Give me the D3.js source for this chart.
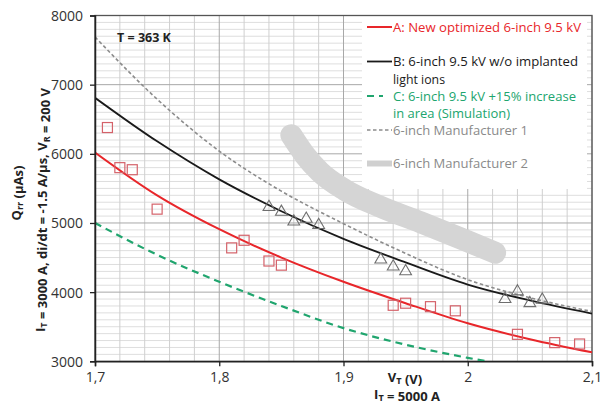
<!DOCTYPE html>
<html><head><meta charset="utf-8">
<script src="https://cdn.jsdelivr.net/npm/d3@7"></script>
<style>html,body{margin:0;padding:0;background:#fff;}svg{display:block;}</style>
</head><body>
<svg id="chart" width="602" height="405"></svg>
<script>
// ---- data ----
const vGrid = [1.70, 1.75, 1.80, 1.85, 1.90, 1.95, 2.00, 2.05, 2.10];
const qA = [6020, 5400, 4910, 4500, 4150, 3840, 3550, 3320, 3130];
const qB = [6810, 6180, 5630, 5170, 4770, 4430, 4110, 3880, 3690];
const qM1 = [7690, 6790, 6040, 5460, 4990, 4560, 4180, 3920, 3720];
const vC = [1.70, 1.75, 1.80, 1.85, 1.90, 1.95, 2.00, 2.015];
const qC = [5000, 4540, 4150, 3800, 3480, 3240, 3050, 3000];
const vBand = [1.858, 1.869, 1.881, 1.901, 1.929, 1.962, 1.994, 2.022];
const qBand = [6270, 5980, 5740, 5480, 5240, 5010, 4780, 4570];
const vSquares = [1.71, 1.72, 1.73, 1.75, 1.81, 1.82, 1.84, 1.85, 1.94, 1.95, 1.97, 1.99, 2.04, 2.07, 2.09];
const qSquares = [6380, 5800, 5770, 5200, 4640, 4750, 4450, 4390, 3810, 3840, 3790, 3730, 3390, 3270, 3250];
const vTri = [1.84, 1.85, 1.86, 1.87, 1.88, 1.93, 1.94, 1.95, 2.03, 2.04, 2.05, 2.06];
const qTri = [5230, 5160, 5020, 5060, 4970, 4470, 4370, 4300, 3900, 4010, 3840, 3890];
const xTicks = [1.7, 1.8, 1.9, 2.0, 2.1];
const xTickLabels = ["1,7", "1,8", "1,9", "2", "2,1"];
const yTicks = [3000, 4000, 5000, 6000, 7000, 8000];
const yTickLabels = ["3000", "4000", "5000", "6000", "7000", "8000"];
const legendLabels = [
  ["A: New optimized 6-inch 9.5 kV"],
  ["B: 6-inch 9.5 kV w/o implanted", "light ions"],
  ["C: 6-inch 9.5 kV +15% increase", "in area (Simulation)"],
  ["6-inch Manufacturer 1"],
  ["6-inch Manufacturer 2"]
];

// ---- layout ----
const svg = d3.select("#chart");
const L = 95, R = 592, T = 15.5, B = 361.3;
const x = d3.scaleLinear().domain([1.7, 2.1]).range([L, R]);
const y = d3.scaleLinear().domain([3000, 8000]).range([B, T]);
const FONT = "'Open Sans', 'DejaVu Sans', sans-serif";
const cRed = "#e8262a", cBlack = "#1a1a1a", cGreen = "#20a56e";

svg.append("defs").append("clipPath").attr("id", "clip")
  .append("rect").attr("x", L).attr("y", T).attr("width", R - L).attr("height", B - T);

// grid
const g = svg.append("g");
g.selectAll(".hmin").data(d3.range(3100, 8000, 100).filter(v => v % 1000 !== 0)).join("line")
  .attr("x1", L).attr("x2", R).attr("y1", d => y(d)).attr("y2", d => y(d))
  .attr("stroke", "#dedede").attr("stroke-width", 1);
g.selectAll(".vmin").data(d3.range(1.72, 2.1, 0.02).filter(v => Math.abs(v * 10 - Math.round(v * 10)) > 0.01)).join("line")
  .attr("y1", T).attr("y2", B).attr("x1", d => x(d)).attr("x2", d => x(d))
  .attr("stroke", "#cfcfcf").attr("stroke-width", 1);
g.selectAll(".hmaj").data(yTicks).join("line")
  .attr("x1", L).attr("x2", R).attr("y1", d => y(d)).attr("y2", d => y(d))
  .attr("stroke", "#a8a8a8").attr("stroke-width", 1);
g.selectAll(".vmaj").data(xTicks).join("line")
  .attr("y1", T).attr("y2", B).attr("x1", d => x(d)).attr("x2", d => x(d))
  .attr("stroke", "#a8a8a8").attr("stroke-width", 1);

// legend box background
svg.append("rect").attr("x", 362).attr("y", T + 0.5).attr("width", 225).attr("height", 173).attr("fill", "#fff");

// border
svg.append("rect").attr("x", L).attr("y", T).attr("width", R - L).attr("height", B - T)
  .attr("fill", "none").attr("stroke", "#555").attr("stroke-width", 1.3);

const plot = svg.append("g").attr("clip-path", "url(#clip)");
const line = d3.line().curve(d3.curveMonotoneX);

// band Manufacturer 2
plot.append("path").attr("d", line(vBand.map((v, i) => [x(v), y(qBand[i])])))
  .attr("fill", "none").attr("stroke", "#d5d5d5").attr("stroke-width", 22)
  .attr("stroke-linecap", "round").attr("stroke-linejoin", "round");

// lines
plot.append("path").attr("d", line(vGrid.map((v, i) => [x(v), y(qM1[i])])))
  .attr("fill", "none").attr("stroke", "#8c8c8c").attr("stroke-width", 1.6).attr("stroke-dasharray", "3.5,2.5");
plot.append("path").attr("d", line(vC.map((v, i) => [x(v), y(qC[i])])))
  .attr("fill", "none").attr("stroke", cGreen).attr("stroke-width", 2.2).attr("stroke-dasharray", "7,5");
plot.append("path").attr("d", line(vGrid.map((v, i) => [x(v), y(qB[i])])))
  .attr("fill", "none").attr("stroke", cBlack).attr("stroke-width", 1.8);
plot.append("path").attr("d", line(vGrid.map((v, i) => [x(v), y(qA[i])])))
  .attr("fill", "none").attr("stroke", cRed).attr("stroke-width", 2);

// markers
plot.selectAll(".sq").data(vSquares.map((v, i) => [v, qSquares[i]])).join("rect")
  .attr("x", d => x(d[0]) - 5).attr("y", d => y(d[1]) - 5).attr("width", 10).attr("height", 10)
  .attr("fill", "none").attr("stroke", "#d4626a").attr("stroke-width", 1.2);
const tri = d3.symbol().type(d3.symbolTriangle).size(60);
plot.selectAll(".tri").data(vTri.map((v, i) => [v, qTri[i]])).join("path")
  .attr("d", tri).attr("transform", d => `translate(${x(d[0])},${y(d[1])})`)
  .attr("fill", "none").attr("stroke", "#6e6e6e").attr("stroke-width", 1.1);

// axes
const xAxis = d3.axisBottom(x).tickValues(xTicks).tickFormat((d, i) => xTickLabels[i]).tickSize(5).tickPadding(6);
const yAxis = d3.axisLeft(y).tickValues(yTicks).tickFormat((d, i) => yTickLabels[i]).tickSize(5).tickPadding(7);
const gx = svg.append("g").attr("transform", `translate(0,${B})`).call(xAxis);
const gy = svg.append("g").attr("transform", `translate(${L},0)`).call(yAxis);
[gx, gy].forEach(a => {
  a.select(".domain").attr("stroke", "#222").attr("stroke-width", 1.5);
  a.selectAll(".tick line").attr("stroke", "#222").attr("stroke-width", 1.3);
  a.selectAll("text").attr("font-family", FONT).attr("font-size", 14).attr("fill", "#333");
});
gy.selectAll("text").attr("dy", "0.35em");

// T = 363 K
svg.append("text").attr("x", 117).attr("y", 41.5).attr("font-family", FONT).attr("font-size", 12.5)
  .attr("font-weight", "bold").attr("fill", "#222").text("T = 363 K");

// axis titles
function sub(t, main, s) {
  t.append("tspan").text(main);
  t.append("tspan").attr("font-size", "70%").attr("dy", "0.25em").text(s);
  t.append("tspan").attr("dy", "-0.25em").text("");
}
const xt1 = svg.append("text").attr("x", 405).attr("y", 382).attr("text-anchor", "middle")
  .attr("font-family", FONT).attr("font-size", 13).attr("font-weight", "bold").attr("fill", "#222");
sub(xt1, "V", "T"); xt1.append("tspan").text(" (V)");
const xt2 = svg.append("text").attr("x", 407).attr("y", 399).attr("text-anchor", "middle")
  .attr("font-family", FONT).attr("font-size", 13).attr("font-weight", "bold").attr("fill", "#222");
sub(xt2, "I", "T"); xt2.append("tspan").text(" = 5000 A");

const yt1 = svg.append("text").attr("transform", "translate(21,193) rotate(-90)").attr("text-anchor", "middle")
  .attr("font-family", FONT).attr("font-size", 13).attr("font-weight", "bold").attr("fill", "#222");
sub(yt1, "Q", "rr"); yt1.append("tspan").text(" (µAs)");
const yt2 = svg.append("text").attr("transform", "translate(45,210) rotate(-90)").attr("text-anchor", "middle")
  .attr("font-family", FONT).attr("font-size", 13).attr("font-weight", "bold").attr("fill", "#222");
sub(yt2, "I", "T"); yt2.append("tspan").text(" = 3000 A, di/dt = -1.5 A/µs, ");
sub(yt2, "V", "R"); yt2.append("tspan").text(" = 200 V");

// legend
const lg = svg.append("g");
const lx0 = 367, lx1 = 392, tx = 393;
const rows = [
  {y: 27, color: cRed, sample: {stroke: cRed, w: 2}, widths: [188]},
  {y: 61.5, color: "#1a1a1a", sample: {stroke: cBlack, w: 1.8}, widths: [185, 52]},
  {y: 96, color: cGreen, sample: {stroke: cGreen, w: 2.2, dash: "7,5"}, widths: [183, 117]},
  {y: 130, color: "#8a8a8a", sample: {stroke: "#8c8c8c", w: 1.6, dash: "3.5,2.5"}, widths: [135]},
  {y: 163.5, color: "#8a8a8a", sample: {stroke: "#d0d0d0", w: 6}, widths: [135]}
];
rows.forEach((r, i) => {
  const s = lg.append("line").attr("x1", lx0).attr("x2", i === 2 ? 383 : lx1).attr("y1", r.y).attr("y2", r.y)
    .attr("stroke", r.sample.stroke).attr("stroke-width", r.sample.w);
  if (r.sample.dash) s.attr("stroke-dasharray", r.sample.dash);
  legendLabels[i].forEach((t, j) => {
    lg.append("text").attr("x", tx).attr("y", r.y + 4.5 + j * 17.5).attr("font-family", FONT)
      .attr("font-size", 12.5).attr("fill", r.color)
      .attr("textLength", r.widths[j]).attr("lengthAdjust", "spacingAndGlyphs").text(t);
  });
});
</script>
</body></html>
